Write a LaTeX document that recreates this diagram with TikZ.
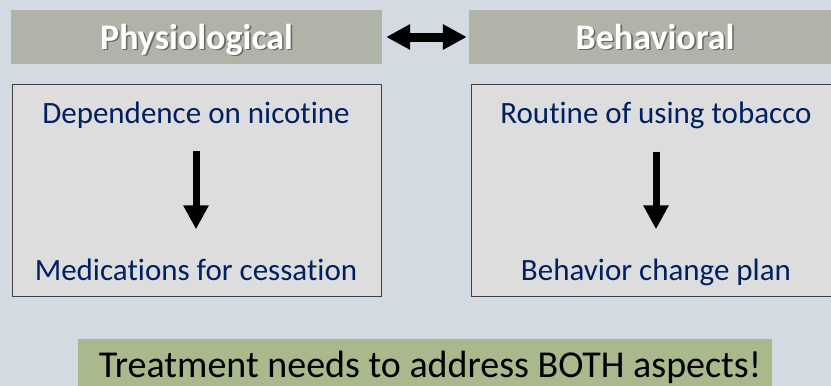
\documentclass[tikz,border=0pt]{standalone}
\usepackage{fontspec}
\setmainfont{Carlito}[Ligatures=NoCommon]
\usepackage{tikz}
\usetikzlibrary{arrows.meta,positioning}

\definecolor{slidebg}{RGB}{211,218,226}
\definecolor{headfill}{RGB}{176,179,168}
\definecolor{boxfill}{RGB}{221,221,221}
\definecolor{boxline}{RGB}{64,64,64}
\definecolor{navytext}{RGB}{0,32,96}
\definecolor{notefill}{RGB}{169,185,140}

\newcommand{\shadowed}[1]{\makebox[0pt][l]{\hspace{1.6pt}\raisebox{-1.6pt}{\textcolor{black!60}{#1}}}\textcolor{white}{#1}}

\tikzset{
  headbox/.style={fill=headfill, minimum height=54pt, inner sep=0pt, text height=29pt, text depth=5pt, font=\fontsize{36}{40}\selectfont\bfseries},
  aspectbox/.style={fill=boxfill, draw=boxline, line width=1pt, minimum height=212pt, inner sep=0pt},
  bluetext/.style={inner sep=0pt, anchor=base, text=navytext, font=\fontsize{31}{36}\selectfont},
  bigarrow/.style={line width=7pt, -{Triangle[length=24pt,width=24pt]}},
  bothways/.style={line width=9pt, {Triangle[length=24pt,width=24pt]}-{Triangle[length=24pt,width=24pt]}}
}

\begin{document}
\begin{tikzpicture}[x=1pt, y=-1pt]
  % slide background
  \fill [slidebg] (0,0) rectangle (831,386);
  \clip (0,0) rectangle (831,386);
  \useasboundingbox (0,0) rectangle (831,386);

  % headers
  \node [headbox, minimum width=371pt] (physhead) at (196.5,37) {\shadowed{Physiological}};
  \node [headbox, minimum width=372pt] (behhead) at (655,37) {\shadowed{Behavioral}};
  \draw [bothways, shorten <=4pt, shorten >=2pt] (physhead.east) -- (behhead.west);

  % boxes
  \node [aspectbox, minimum width=369pt] (physbox) at (196.5,190) {};
  \node [aspectbox, minimum width=369pt] (behbox) at (655.5,190) {};

  % texts and arrows inside the boxes
  \foreach \name/\xpos/\top/\bottom in {phys/196/Dependence on nicotine/Medications for cessation,
                                         beh/656/Routine of using tobacco/Behavior change plan} {
    \node [bluetext] (\name top) at (\xpos,123) {\top};
    \node [bluetext] (\name bottom) at (\xpos,280) {\bottom};
    \draw [bigarrow, shorten <=23pt, shorten >=29pt] (\name top.south) -- (\name bottom.north);
  }

  % note at the bottom
  \node [fill=notefill, minimum width=694pt, minimum height=60pt, inner sep=0pt] (notebox) at (425,369) {};
  \node [inner sep=0pt, anchor=base, font=\fontsize{38}{43}\selectfont] (notetext) at (430,377) {Treatment needs to address BOTH aspects!};
\end{tikzpicture}
\end{document}
